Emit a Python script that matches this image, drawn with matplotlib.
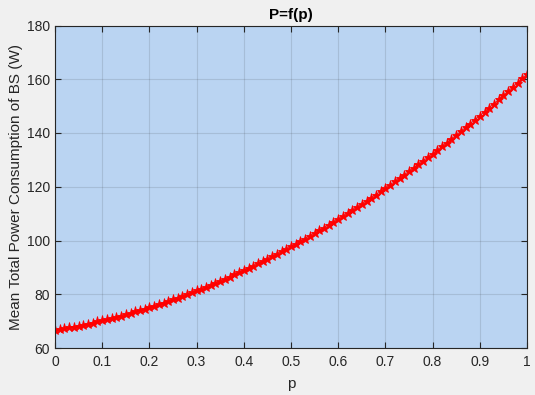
import numpy as np
import matplotlib
matplotlib.use("Agg")
import matplotlib.pyplot as plt

plt.rcParams['font.family'] = ['Liberation Sans', 'DejaVu Sans']

p = np.linspace(0, 1, 101)
power = [66.70, 67.00, 67.31, 67.64, 67.98, 68.33, 68.70, 69.07, 69.47, 69.87,
         70.29, 70.72, 71.17, 71.62, 72.09, 72.58, 73.08, 73.59, 74.11, 74.65,
         75.20, 75.76, 76.34, 76.93, 77.53, 78.14, 78.77, 79.42, 80.07, 80.74,
         81.42, 82.12, 82.82, 83.55, 84.28, 85.03, 85.79, 86.56, 87.35, 88.15,
         88.96, 89.79, 90.63, 91.48, 92.35, 93.23, 94.12, 95.03, 95.95, 96.88,
         97.83, 98.78, 99.76, 100.74, 101.74, 102.75, 103.77, 104.81, 105.86, 106.93,
         108.00, 109.09, 110.20, 111.31, 112.44, 113.59, 114.74, 115.91, 117.10, 118.29,
         119.50, 120.72, 121.96, 123.21, 124.47, 125.74, 127.03, 128.33, 129.65, 130.98,
         132.32, 133.67, 135.04, 136.42, 137.81, 139.22, 140.64, 142.07, 143.52, 144.98,
         146.45, 147.93, 149.43, 150.95, 152.47, 154.01, 155.56, 157.13, 158.70, 160.30,
         161.90]
xticks = [0, 0.1, 0.2, 0.3, 0.4, 0.5, 0.6, 0.7, 0.8, 0.9, 1]
xticklabels = ['0', '0.1', '0.2', '0.3', '0.4', '0.5', '0.6', '0.7', '0.8', '0.9', '1']
yticks = [60, 80, 100, 120, 140, 160, 180]

fig = plt.figure(figsize=(5.35, 3.95), dpi=100, facecolor='#f0f0f0')
ax = fig.add_axes([55/535, 47/395, 472/535, 322.5/395])
ax.set_facecolor('#bad4f2')
ax.plot(p, power, color='red', linestyle='-', linewidth=0.6,
        marker='*', markersize=6.5, markeredgewidth=0.6)
ax.set_xlim(0, 1)
ax.set_ylim(60, 180)
ax.set_xticks(xticks)
ax.set_xticklabels(xticklabels)
ax.set_yticks(yticks)
ax.grid(True, color='#262626', alpha=0.13, linewidth=0.8)
ax.set_axisbelow(True)
ax.tick_params(direction='in', top=True, right=True, length=4, width=0.8,
               colors='#262626', labelsize=10)
ax.tick_params(axis='x', pad=5)
ax.tick_params(axis='y', pad=3.5)
for s in ax.spines.values():
    s.set_color('#262626')
    s.set_linewidth(0.8)
ax.set_title('P=f(p)', fontsize=11, fontweight='bold', color='black', pad=5)
ax.set_xlabel('p', fontsize=11, color='#262626', labelpad=6)
ax.set_ylabel('Mean Total Power Consumption of BS (W)', fontsize=11, color='#262626', labelpad=3)
fig.savefig('out.png', dpi=100, facecolor=fig.get_facecolor())
